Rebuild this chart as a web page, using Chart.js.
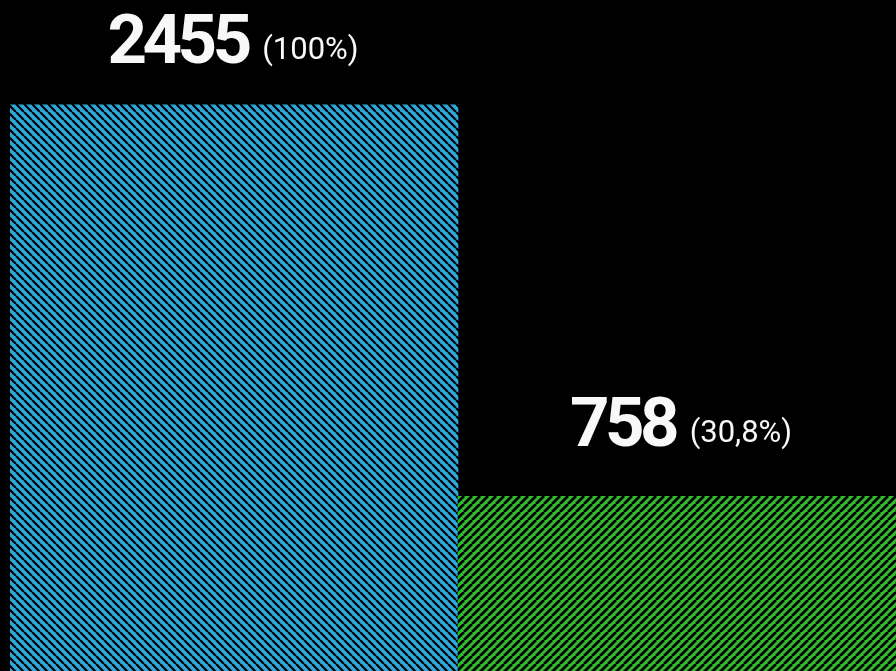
<!DOCTYPE html>
<html>
<head>
<meta charset="utf-8">
<script src="https://cdn.jsdelivr.net/npm/chart.js@4/dist/chart.umd.min.js"></script>
<style>
  html, body { margin: 0; padding: 0; background: #000; overflow: hidden; width: 896px; height: 671px; }
  #c { display: block; }
</style>
</head>
<body>
<canvas id="c" width="906" height="671"></canvas>
<script>
// ---- data ----
const categories = ['Total', 'Subset'];
const values = [2455, 758];
const percentLabels = ['(100%)', '(30,8%)'];
const barColors = ['#2ea9dc', '#30bc30'];
const stripeDirections = ['\\', '/'];
const stripeWidths = [2.2, 2.8];

function makePattern(color, dir, lw) {
  const s = 8;
  const t = document.createElement('canvas');
  t.width = s; t.height = s;
  const g = t.getContext('2d');
  g.fillStyle = color;
  g.fillRect(0, 0, s, s);
  g.strokeStyle = '#000';
  g.lineWidth = lw;
  g.beginPath();
  for (let k = -1; k <= 1; k++) {
    const x0 = k * s;
    if (dir === '\\') { g.moveTo(x0, 0); g.lineTo(x0 + s, s); }
    else { g.moveTo(x0, s); g.lineTo(x0 + s, 0); }
  }
  g.stroke();
  return document.getElementById('c').getContext('2d').createPattern(t, 'repeat');
}

function drawSpaced(ctx, text, x, y, spacing) {
  let cx = x;
  for (const ch of text) {
    ctx.fillText(ch, cx, y);
    cx += ctx.measureText(ch).width + spacing;
  }
}
function spacedWidth(ctx, text, spacing) {
  let w = 0;
  for (const ch of text) w += ctx.measureText(ch).width + spacing;
  return w - spacing;
}

const labelPlugin = {
  id: 'valueLabels',
  afterDatasetsDraw(chart) {
    const ctx = chart.ctx;
    const meta = chart.getDatasetMeta(0);
    ctx.save();
    ctx.fillStyle = '#f8f8f8';
    ctx.textBaseline = 'alphabetic';
    ctx.textAlign = 'left';
    meta.data.forEach((bar, i) => {
      const big = String(values[i]);
      const small = percentLabels[i];
      ctx.font = 'bold 69px Roboto';
      const bigSp = -4.5;
      const wBig = spacedWidth(ctx, big, bigSp);
      ctx.font = '31px Roboto';
      const wSmall = ctx.measureText(small).width;
      const gap = 10;
      const total = wBig + gap + wSmall;
      const x0 = bar.x - 1 - total / 2;
      const baseline = Math.max(bar.y - 50, 63);
      ctx.font = 'bold 69px Roboto';
      drawSpaced(ctx, big, x0, baseline, bigSp);
      ctx.font = '31px Roboto';
      ctx.fillText(small, x0 + wBig + gap, baseline - 4.5);
    });
    ctx.restore();
  }
};

new Chart(document.getElementById('c'), {
  type: 'bar',
  data: {
    labels: categories,
    datasets: [{
      data: values,
      backgroundColor: barColors.map((c, i) => makePattern(c, stripeDirections[i], stripeWidths[i])),
      borderWidth: 0,
      categoryPercentage: 1.0,
      barPercentage: 1.0
    }]
  },
  options: {
    responsive: false,
    devicePixelRatio: 1,
    animation: false,
    layout: { padding: { left: 10, right: 0, top: 0, bottom: 0 } },
    plugins: { legend: { display: false }, tooltip: { enabled: false } },
    scales: {
      x: { display: false },
      y: { display: false, min: 0, max: 2910 }
    }
  },
  plugins: [labelPlugin]
});
</script>
</body>
</html>
